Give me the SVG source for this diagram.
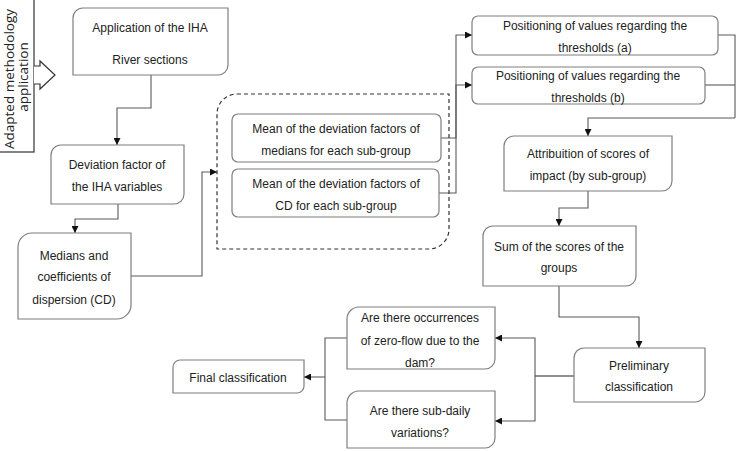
<svg xmlns="http://www.w3.org/2000/svg" width="736" height="451" viewBox="0 0 736 451">
<style>
.box{fill:#fff;stroke:#7f7f7f;stroke-width:1.2}
.t{font-family:"Liberation Sans",Arial,sans-serif;font-size:12px;fill:#222;text-anchor:middle}
.c{fill:none;stroke:#5a5a5a;stroke-width:1.1}
.ca{fill:none;stroke:#5a5a5a;stroke-width:1.1;marker-end:url(#ah)}
.side{font-family:"Open Sans",sans-serif;font-size:13.5px;fill:#222;text-anchor:middle}
</style>
<defs>
<marker id="ah" markerUnits="userSpaceOnUse" markerWidth="7" markerHeight="7" refX="7" refY="3.5" orient="auto">
<path d="M0,0 L7,3.5 L0,7 Z" fill="#111"/>
</marker>
</defs>
<rect width="736" height="451" fill="#fff"/>

<g id="side">
<rect x="-1" y="-1" width="35" height="153" fill="#fff" stroke="#333" stroke-width="1.2"/>
<text class="side" transform="translate(14,79) rotate(-90)">Adapted methodology</text>
<text class="side" transform="translate(28,77) rotate(-90)">application</text>
<path d="M34,66 H40 V61 L55,75 L40,89 V84 H34" fill="#fff" stroke="#333" stroke-width="1.2"/>
</g>

<g id="connectors">
<path class="ca" d="M151,75 V108 H117 V145"/>
<path class="ca" d="M118,204 V219 H75 V233"/>
<path class="ca" d="M131,276 H202 V172 H217"/>
<path class="ca" d="M441,138 H456 V35 H472"/>
<path class="ca" d="M439,193 H456 V85 H472"/>
<path class="c" d="M718,35 H735 V118"/>
<path class="c" d="M705,85 H735"/>
<path class="ca" d="M735,118 H588 V136"/>
<path class="ca" d="M588,191 V208 H559 V226"/>
<path class="ca" d="M559,286 V317 H639 V348"/>
<path class="c" d="M574,376 H535" style="stroke:#222"/>
<path class="ca" d="M535,376 V338 H495"/>
<path class="ca" d="M535,376 V421 H495"/>
<path class="c" d="M347,338 H325 V420 H347"/>
<path class="ca" d="M325,377 H304"/>
</g>

<g id="n-application">
<path class="box" d="M83,8 H228 V65 A10,10 0 0 1 218,75 H73 V18 A10,10 0 0 1 83,8 Z"/>
<text class="t" x="150" y="32">Application of the IHA</text>
<text class="t" x="150" y="64">River sections</text>
</g>

<g id="n-deviation">
<path class="box" d="M61,145 H184 V194 A10,10 0 0 1 174,204 H51 V155 A10,10 0 0 1 61,145 Z"/>
<text class="t" x="117" y="169">Deviation factor of</text>
<text class="t" x="117" y="191">the IHA variables</text>
</g>

<g id="n-medians">
<path class="box" d="M32,233 H131 V305 A14,14 0 0 1 117,319 H18 V247 A14,14 0 0 1 32,233 Z"/>
<text class="t" x="74" y="260">Medians and</text>
<text class="t" x="74" y="281">coefficients of</text>
<text class="t" x="74" y="304">dispersion (CD)</text>
</g>

<g id="n-group">
<path d="M237,94 H449 V229 A20,20 0 0 1 429,249 H217 V114 A20,20 0 0 1 237,94 Z" fill="none" stroke="#333" stroke-width="1.2" stroke-dasharray="4 3"/>
</g>

<g id="n-mean-medians">
<rect class="box" x="232" y="114" width="209" height="48" rx="6"/>
<text class="t" x="336" y="133">Mean of the deviation factors of</text>
<text class="t" x="336" y="155">medians for each sub-group</text>
</g>

<g id="n-mean-cd">
<rect class="box" x="232" y="169" width="207" height="48" rx="6"/>
<text class="t" x="336" y="188">Mean of the deviation factors of</text>
<text class="t" x="336" y="210">CD for each sub-group</text>
</g>

<g id="n-pos-a">
<rect class="box" x="472" y="16" width="246" height="39" rx="6"/>
<text class="t" x="595" y="30">Positioning of values regarding the</text>
<text class="t" x="595" y="52">thresholds (a)</text>
</g>

<g id="n-pos-b">
<rect class="box" x="472" y="67" width="233" height="37" rx="6"/>
<text class="t" x="588" y="80">Positioning of values regarding the</text>
<text class="t" x="588" y="102">thresholds (b)</text>
</g>

<g id="n-attribution">
<path class="box" d="M514,136 H672 V181 A10,10 0 0 1 662,191 H504 V146 A10,10 0 0 1 514,136 Z"/>
<text class="t" x="588" y="158">Attribuition of scores of</text>
<text class="t" x="588" y="180">impact (by sub-group)</text>
</g>

<g id="n-sum">
<path class="box" d="M493,226 H636 V276 A10,10 0 0 1 626,286 H483 V236 A10,10 0 0 1 493,226 Z"/>
<text class="t" x="559" y="251">Sum of the scores of the</text>
<text class="t" x="559" y="272">groups</text>
</g>

<g id="n-preliminary">
<path class="box" d="M584,348 H705 V392 A10,10 0 0 1 695,402 H574 V358 A10,10 0 0 1 584,348 Z"/>
<text class="t" x="639" y="370">Preliminary</text>
<text class="t" x="639" y="391">classification</text>
</g>

<g id="n-zero-flow">
<path class="box" d="M359,307 H495 V359 A10,10 0 0 1 485,369 H347 V319 A12,12 0 0 1 359,307 Z"/>
<text class="t" x="420" y="322">Are there occurrences</text>
<text class="t" x="420" y="345">of zero-flow due to the</text>
<text class="t" x="420" y="367">dam?</text>
</g>

<g id="n-subdaily">
<path class="box" d="M359,391 H495 V438 A10,10 0 0 1 485,448 H347 V403 A12,12 0 0 1 359,391 Z"/>
<text class="t" x="420" y="415">Are there sub-daily</text>
<text class="t" x="420" y="437">variations?</text>
</g>

<g id="n-final">
<path class="box" d="M180,360 H304 V386 A7,7 0 0 1 297,393 H173 V367 A7,7 0 0 1 180,360 Z"/>
<text class="t" x="238" y="382">Final classification</text>
</g>
</svg>
